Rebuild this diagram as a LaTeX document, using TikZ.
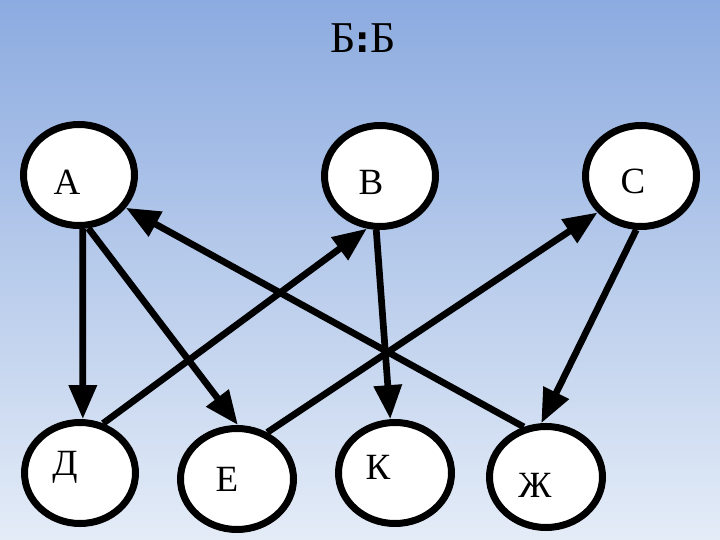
\documentclass[tikz,border=0pt]{standalone}
\usepackage{fontspec}
\setmainfont{Liberation Serif}
\newfontfamily\dvsans{DejaVu Sans}
\usetikzlibrary{shapes.geometric,arrows.meta}
\definecolor{bgtop}{RGB}{140,171,224}
\definecolor{bgbot}{RGB}{228,236,247}
\tikzset{
  vert/.style={ellipse,draw=black,line width=7pt,fill=white,minimum width=#1,minimum height=101pt,inner sep=0pt},
  vert/.default=111pt,
  lab/.style={font=\fontsize{37}{37}\selectfont,inner sep=0pt},
  edge/.style={line width=6.7pt,-{Triangle[length=34pt,width=27pt]}}
}
\begin{document}
\begin{tikzpicture}[x=1pt,y=-1pt]
\useasboundingbox (0,0) rectangle (720,540);
\shade[top color=bgtop,bottom color=bgbot] (0,0) rectangle (720,540);
\node[font=\fontsize{44}{44}\selectfont,inner sep=0pt] (title) at (363,38) {Б{\dvsans\bfseries\fontsize{36}{36}\selectfont:}Б};
% vertices
\node[vert] (A) at (79,175) {};
\node[vert] (B) at (380,176) {};
\node[vert] (C) at (641,176) {};
\node[vert] (D) at (80,473) {};
\node[vert=113pt] (E) at (237,479) {};
\node[vert=113pt] (K) at (395,473) {};
\node[vert=113pt] (Zh) at (546,477) {};
% labels
\node[lab] (lA) at (67,182) {А};
\node[lab] (lB) at (371,182) {В};
\node[lab] (lC) at (633,181) {С};
\node[lab] (lD) at (65,467) {Д};
\node[lab] (lE) at (227,479) {Е};
\node[lab] (lK) at (378,467) {К};
\node[lab] (lZh) at (535,485) {Ж};
% edges
\draw[edge] (A.-86) -- (D.87);
\draw[edge] (A.-80) -- (E.89);
\draw[edge] (D.65) -- (B.-104);
\draw[edge] (E.57) -- (C.-140);
\draw[edge] (B.-94) -- (K.95);
\draw[edge] (C.-95) -- (Zh.95);
\draw[edge] (Zh.114) -- (A.-35);
\end{tikzpicture}
\end{document}
